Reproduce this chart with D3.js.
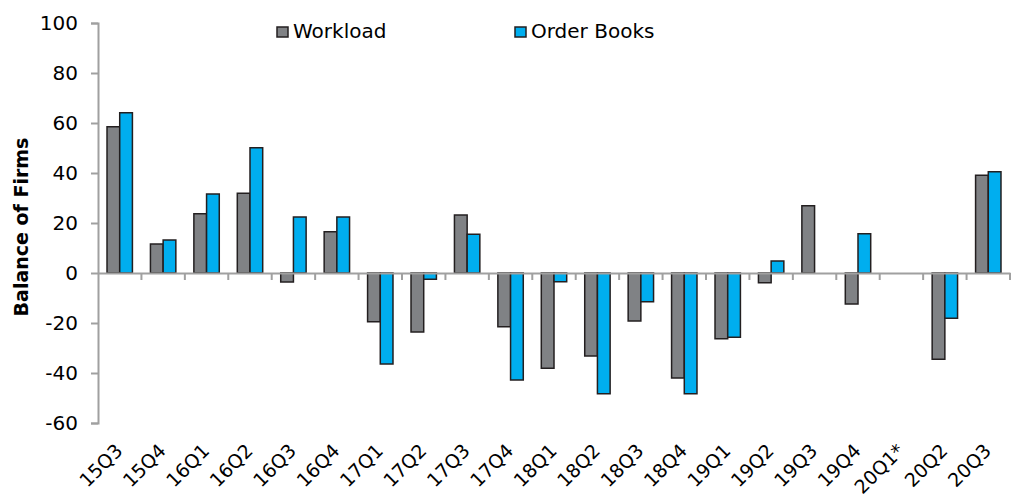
<!DOCTYPE html>
<html><head><meta charset="utf-8">
<script src="https://cdn.jsdelivr.net/npm/d3@7"></script>
<style>body{margin:0;background:#fff}svg{display:block}</style>
</head><body>
<svg id="c" width="1018" height="498"></svg>
<script>
const categories = ["15Q3","15Q4","16Q1","16Q2","16Q3","16Q4","17Q1","17Q2","17Q3","17Q4","18Q1","18Q2","18Q3","18Q4","19Q1","19Q2","19Q3","19Q4","20Q1*","20Q2","20Q3"];
const workload   = [58.5, 11.6, 23.7, 31.9, -3.6, 16.5, -19.5, -23.6, 23.2, -21.5, -38.1, -33.2, -19.2, -42.0, -26.3, -3.9, 26.9, -12.4, null, -34.5, 39.1];
const orderBooks = [64.1, 13.2, 31.6, 50.1, 22.4, 22.4, -36.4, -2.5, 15.5, -42.8, -3.5, -48.3, -11.5, -48.3, -25.7, 4.8, null, 15.7, null, -18.1, 40.5];
const seriesNames = ["Workload","Order Books"];
const seriesColors = ["#808285","#00aeef"];
const yTicks = [-60,-40,-20,0,20,40,60,80,100];

(function(){
const svg = d3.select("#c");
const font = "'DejaVu Sans', sans-serif";
const mLeft = 98, mRight = 1010, mTop = 23, mBottom = 423;
const x = d3.scaleBand().domain(categories).range([mLeft, mRight]).paddingInner(0).paddingOuter(0);
const y = d3.scaleLinear().domain([-60,100]).range([mBottom, mTop]);
const sub = d3.scaleBand().domain(seriesNames).range([0, 25.4]);
const groupOffset = (x.bandwidth() - 25.4) / 2;

// Y axis
const yAxis = d3.axisLeft(y).tickValues(yTicks).tickSize(7).tickPadding(13).tickFormat(d => String(d));
const gy = svg.append("g").attr("transform", `translate(${mLeft},0)`).call(yAxis);
gy.select(".domain").attr("stroke","#a0a0a0").attr("stroke-width",2);
gy.selectAll(".tick line").attr("stroke","#a0a0a0").attr("stroke-width",2);
gy.selectAll(".tick text").attr("font-family",font).attr("font-size","20px").attr("fill","#000");

// Bars
const data = [workload, orderBooks];
data.forEach((vals, si) => {
  svg.append("g").selectAll("rect")
    .data(categories.map((c,i)=>({c, v: vals[i]})).filter(d => d.v !== null))
    .join("rect")
    .attr("x", d => x(d.c) + groupOffset + sub(seriesNames[si]))
    .attr("width", sub.bandwidth())
    .attr("y", d => y(Math.max(0, d.v)))
    .attr("height", d => Math.abs(y(d.v) - y(0)))
    .attr("fill", seriesColors[si])
    .attr("stroke", "#231f20")
    .attr("stroke-width", 1.5);
});

// X axis at zero
const xAxis = d3.axisBottom(x).tickSize(0).tickFormat("");
const gx = svg.append("g").attr("transform", `translate(0,${y(0)})`).call(xAxis);
gx.select(".domain").attr("stroke","#a0a0a0").attr("stroke-width",2);
const bounds = categories.map(c => x(c)).concat([mRight]).slice(1);
gx.selectAll("line.bt").data(bounds).join("line").attr("class","bt")
  .attr("x1", d=>d).attr("x2", d=>d).attr("y1",0).attr("y2",7)
  .attr("stroke","#a0a0a0").attr("stroke-width",2);

// X labels (rotated)
svg.append("g").selectAll("text").data(categories).join("text")
  .attr("transform", d => `translate(${x(d) + x.bandwidth()/2 + 4},${mBottom + 29}) rotate(-45)`)
  .attr("text-anchor","end")
  .attr("font-family", font).attr("font-size","19px").attr("fill","#000")
  .text(d => d);

// Y title
svg.append("text")
  .attr("transform", `translate(28,227) rotate(-90)`)
  .attr("text-anchor","middle")
  .attr("font-family", font).attr("font-size","19px").attr("font-weight","bold").attr("fill","#000")
  .text("Balance of Firms");

// Legend
const legX = [277, 515];
seriesNames.forEach((n,i) => {
  const g = svg.append("g").attr("transform", `translate(${legX[i]},27)`);
  g.append("rect").attr("x",0).attr("y",0).attr("width",11).attr("height",10)
    .attr("fill", seriesColors[i]).attr("stroke","#231f20").attr("stroke-width",1.5);
  g.append("text").attr("x",16).attr("y",11)
    .attr("font-family", font).attr("font-size","20px").attr("fill","#000").text(n);
});
})();
</script>
</body></html>
